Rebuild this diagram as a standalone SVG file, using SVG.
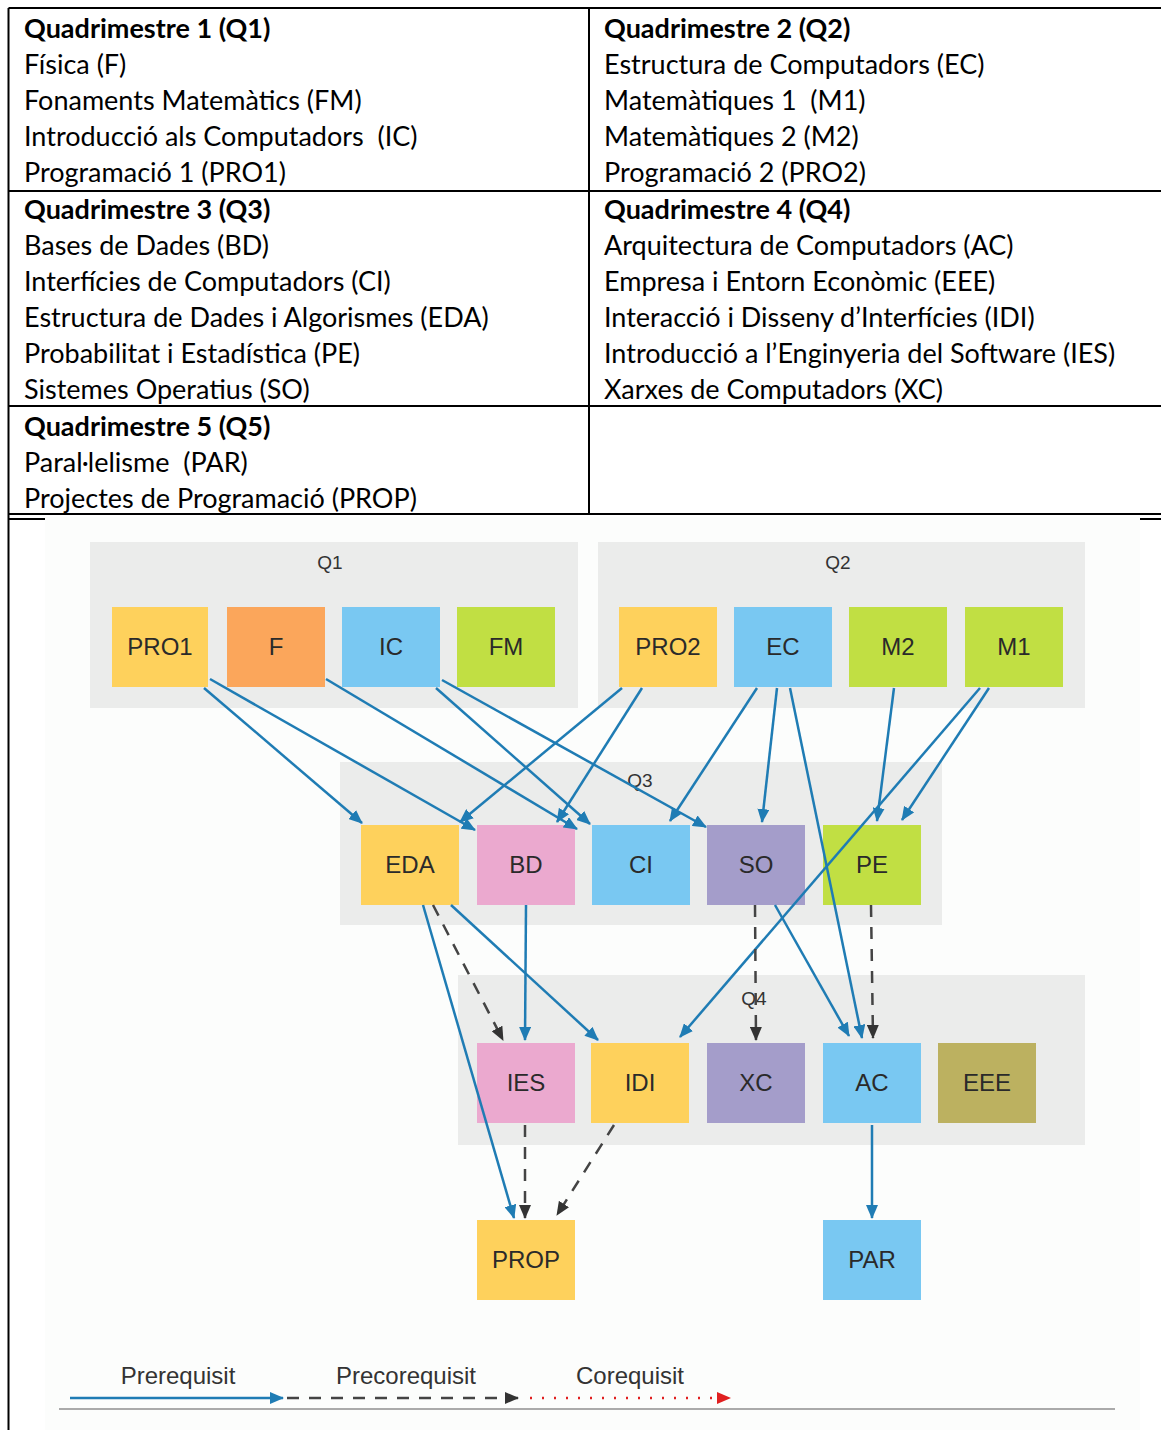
<svg xmlns="http://www.w3.org/2000/svg" width="1161" height="1430" viewBox="0 0 1161 1430">
<style>
.tb{stroke:#000;stroke-width:2;fill:none}
.tt{font-family:Lato,"Liberation Sans",sans-serif;font-size:27px;fill:#000;white-space:pre}
.th{font-family:Lato,"Liberation Sans",sans-serif;font-size:27px;font-weight:bold;fill:#000;white-space:pre}
.grp{fill:#ebeceb}
.gl{font-family:"Liberation Sans",Arial,sans-serif;font-size:19px;fill:#333;text-anchor:middle}
.nl{font-family:"Liberation Sans",Arial,sans-serif;font-size:24px;fill:#2a2a2a;text-anchor:middle}
.e{stroke:#1f7cb4;stroke-width:2.5;fill:none;marker-end:url(#ab)}
.d{stroke:#444;stroke-width:2.5;fill:none;stroke-dasharray:12 10;marker-end:url(#ad)}
.lg{font-family:"Liberation Sans",Arial,sans-serif;font-size:24px;fill:#333;text-anchor:middle}
</style>
<defs>
<marker id="ab" markerUnits="userSpaceOnUse" markerWidth="14" markerHeight="12" refX="13" refY="6" orient="auto"><path d="M0,0 L14,6 L0,12 z" fill="#1f7cb4"/></marker>
<marker id="ad" markerUnits="userSpaceOnUse" markerWidth="14" markerHeight="12" refX="13" refY="6" orient="auto"><path d="M0,0 L14,6 L0,12 z" fill="#333"/></marker>
<marker id="ar" markerUnits="userSpaceOnUse" markerWidth="14" markerHeight="12" refX="13" refY="6" orient="auto"><path d="M0,0 L14,6 L0,12 z" fill="#e02020"/></marker>
</defs>
<rect width="1161" height="1430" fill="#fff"/>
<g id="table">
<path class="tb" d="M8.5,8 L1161,8 M8.5,8 L8.5,1430 M589,8 L589,514 M8,191 L1161,191 M8,406 L1161,406 M8,514 L1161,514 M8,519 L45,519 M1140,519 L1161,519"/>
<text class="th" x="24" y="38">Quadrimestre 1 (Q1)</text>
<text class="tt" x="24" y="74">Física (F)</text>
<text class="tt" x="24" y="110">Fonaments Matemàtics (FM)</text>
<text class="tt" x="24" y="146">Introducció als Computadors  (IC)</text>
<text class="tt" x="24" y="182">Programació 1 (PRO1)</text>
<text class="th" x="604" y="38">Quadrimestre 2 (Q2)</text>
<text class="tt" x="604" y="74">Estructura de Computadors (EC)</text>
<text class="tt" x="604" y="110">Matemàtiques 1  (M1)</text>
<text class="tt" x="604" y="146">Matemàtiques 2 (M2)</text>
<text class="tt" x="604" y="182">Programació 2 (PRO2)</text>
<text class="th" x="24" y="219">Quadrimestre 3 (Q3)</text>
<text class="tt" x="24" y="255">Bases de Dades (BD)</text>
<text class="tt" x="24" y="291">Interfícies de Computadors (CI)</text>
<text class="tt" x="24" y="327">Estructura de Dades i Algorismes (EDA)</text>
<text class="tt" x="24" y="363">Probabilitat i Estadística (PE)</text>
<text class="tt" x="24" y="399">Sistemes Operatius (SO)</text>
<text class="th" x="604" y="219">Quadrimestre 4 (Q4)</text>
<text class="tt" x="604" y="255">Arquitectura de Computadors (AC)</text>
<text class="tt" x="604" y="291">Empresa i Entorn Econòmic (EEE)</text>
<text class="tt" x="604" y="327">Interacció i Disseny d’Interfícies (IDI)</text>
<text class="tt" x="604" y="363">Introducció a l’Enginyeria del Software (IES)</text>
<text class="tt" x="604" y="399">Xarxes de Computadors (XC)</text>
<text class="th" x="24" y="436">Quadrimestre 5 (Q5)</text>
<text class="tt" x="24" y="472">Paral·lelisme  (PAR)</text>
<text class="tt" x="24" y="508">Projectes de Programació (PROP)</text>
</g>
<rect x="45" y="517" width="1095" height="913" fill="#fcfdfc"/>
<g id="groups">
<rect class="grp" x="90" y="542" width="488" height="166"/>
<text class="gl" x="330" y="569">Q1</text>
<rect class="grp" x="598" y="542" width="487" height="166"/>
<text class="gl" x="838" y="569">Q2</text>
<rect class="grp" x="340" y="762" width="602" height="163"/>
<text class="gl" x="640" y="787">Q3</text>
<rect class="grp" x="458" y="975" width="627" height="170"/>
<text class="gl" x="754" y="1005">Q4</text>
</g>
<g id="PRO1"><rect x="112" y="607" width="96" height="80" fill="#fed15c"/><text class="nl" x="160" y="655">PRO1</text></g>
<g id="F"><rect x="227" y="607" width="98" height="80" fill="#fba65b"/><text class="nl" x="276" y="655">F</text></g>
<g id="IC"><rect x="342" y="607" width="98" height="80" fill="#79c8f2"/><text class="nl" x="391" y="655">IC</text></g>
<g id="FM"><rect x="457" y="607" width="98" height="80" fill="#c1df43"/><text class="nl" x="506" y="655">FM</text></g>
<g id="PRO2"><rect x="619" y="607" width="98" height="80" fill="#fed15c"/><text class="nl" x="668" y="655">PRO2</text></g>
<g id="EC"><rect x="734" y="607" width="98" height="80" fill="#79c8f2"/><text class="nl" x="783" y="655">EC</text></g>
<g id="M2"><rect x="849" y="607" width="98" height="80" fill="#c1df43"/><text class="nl" x="898" y="655">M2</text></g>
<g id="M1"><rect x="965" y="607" width="98" height="80" fill="#c1df43"/><text class="nl" x="1014" y="655">M1</text></g>
<g id="EDA"><rect x="361" y="825" width="98" height="80" fill="#fed15c"/><text class="nl" x="410" y="873">EDA</text></g>
<g id="BD"><rect x="477" y="825" width="98" height="80" fill="#eba9cf"/><text class="nl" x="526" y="873">BD</text></g>
<g id="CI"><rect x="592" y="825" width="98" height="80" fill="#79c8f2"/><text class="nl" x="641" y="873">CI</text></g>
<g id="SO"><rect x="707" y="825" width="98" height="80" fill="#a49dca"/><text class="nl" x="756" y="873">SO</text></g>
<g id="PE"><rect x="823" y="825" width="98" height="80" fill="#c1df43"/><text class="nl" x="872" y="873">PE</text></g>
<g id="IES"><rect x="477" y="1043" width="98" height="80" fill="#eba9cf"/><text class="nl" x="526" y="1091">IES</text></g>
<g id="IDI"><rect x="591" y="1043" width="98" height="80" fill="#fed15c"/><text class="nl" x="640" y="1091">IDI</text></g>
<g id="XC"><rect x="707" y="1043" width="98" height="80" fill="#a49dca"/><text class="nl" x="756" y="1091">XC</text></g>
<g id="AC"><rect x="823" y="1043" width="98" height="80" fill="#79c8f2"/><text class="nl" x="872" y="1091">AC</text></g>
<g id="EEE"><rect x="938" y="1043" width="98" height="80" fill="#bcb160"/><text class="nl" x="987" y="1091">EEE</text></g>
<g id="PROP"><rect x="477" y="1220" width="98" height="80" fill="#fed15c"/><text class="nl" x="526" y="1268">PROP</text></g>
<g id="PAR"><rect x="823" y="1220" width="98" height="80" fill="#79c8f2"/><text class="nl" x="872" y="1268">PAR</text></g>
<g id="connectors">
<path class="e" d="M204,688 L362,823"/>
<path class="e" d="M210,679 L475,830"/>
<path class="e" d="M326,679 L577,829"/>
<path class="e" d="M436,688 L590,824"/>
<path class="e" d="M442,680 L706,827"/>
<path class="e" d="M622,688 L460,822"/>
<path class="e" d="M642,688 L557,822"/>
<path class="e" d="M757,688 L670,821"/>
<path class="e" d="M777,688 L762,822"/>
<path class="e" d="M790,688 L862,1038"/>
<path class="e" d="M894,688 L877,821"/>
<path class="e" d="M989,688 L902,820"/>
<path class="e" d="M980,688 L680,1037"/>
<path class="e" d="M423,905 L514,1218"/>
<path class="d" d="M433,905 L503,1040"/>
<path class="e" d="M451,905 L598,1040"/>
<path class="e" d="M526,905 L525,1040"/>
<path class="d" d="M755,905 L756,1040"/>
<path class="e" d="M775,905 L849,1036"/>
<path class="d" d="M871,905 L873,1038"/>
<path class="d" d="M525,1125 L525,1218"/>
<path class="d" d="M614,1125 L557,1215"/>
<path class="e" d="M872,1125 L872,1218"/>
</g>
<g id="legend">
<text class="lg" x="178" y="1384">Prerequisit</text>
<text class="lg" x="406" y="1384">Precorequisit</text>
<text class="lg" x="630" y="1384">Corequisit</text>
<path d="M70,1398 L283,1398" stroke="#1f7cb4" stroke-width="2.5" fill="none" marker-end="url(#ab)"/>
<path d="M287,1398 L518,1398" stroke="#444" stroke-width="2.5" fill="none" stroke-dasharray="12 10" marker-end="url(#ad)"/>
<path d="M530,1398 L730,1398" stroke="#e02020" stroke-width="2.5" fill="none" stroke-dasharray="2 10" marker-end="url(#ar)"/>
<path d="M59,1409 L1115,1409" stroke="#aaa" stroke-width="2" fill="none"/>
</g>
</svg>
